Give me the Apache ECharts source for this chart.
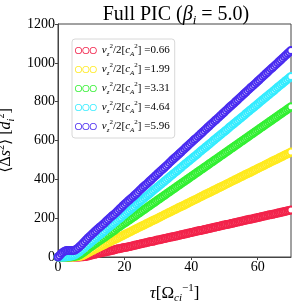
<!DOCTYPE html>
<html><head><meta charset="utf-8">
<script src="https://cdn.jsdelivr.net/npm/echarts@6/dist/echarts.min.js"></script>
<style>html,body{margin:0;padding:0;background:#fff}#c{width:299px;height:301px}</style>
</head><body><div id="c"></div>
<script>
// sample times: 0, 0.5, ..., 70
var tau = [];
for (var k = 0; k <= 140; k++) tau.push(k / 2);
var names = ['0.66', '1.99', '3.31', '4.64', '5.96'];
var colors = ['#f2234b', '#ffea1f', '#33f033', '#35ecff', '#4a2cf0'];
var red = [0,0,0,0,0,0,0,0,0,0,0,0,0,0,1,1,2,3,5,8,10,12,14,16,18,20,22,24,26,27,29,31,33,35,37,40,42,43,45,47,49,50,52,54,56,58,60,62,64,66,68,70,72,74,76,78,80,81,83,86,88,89,91,93,95,97,99,101,103,104,106,108,110,112,114,116,118,120,122,124,126,128,130,132,134,136,137,139,141,143,145,147,149,151,153,155,157,159,161,163,165,167,168,170,172,174,176,178,180,182,184,186,188,190,192,194,195,197,199,201,203,205,207,209,211,213,215,217,218,220,222,224,226,228,230,232,234,236,238,240,242];
var yellow = [0,0,0,0,0,0,0,0,0,0,1,1,2,3,5,8,12,16,21,26,31,35,39,43,47,52,56,60,64,69,73,77,82,86,90,94,98,103,107,111,116,120,124,128,132,137,141,145,150,154,158,162,166,171,175,179,184,188,192,196,200,205,209,213,218,222,226,230,234,239,243,247,252,256,260,264,268,273,277,281,286,290,294,298,302,307,311,315,320,324,328,332,336,341,345,349,354,358,362,366,370,375,379,383,388,392,396,400,404,409,413,417,422,426,430,434,438,443,447,451,456,460,464,468,472,477,481,485,490,494,498,502,506,511,515,519,524,528,532,536,541];
var green = [0,0,0,0,0,0,0,0,1,2,3,5,7,11,16,22,28,35,41,48,54,60,66,72,78,84,90,96,102,108,114,120,126,132,138,145,151,157,163,169,175,180,186,192,198,204,210,216,222,228,234,240,246,252,258,264,270,276,282,288,294,300,306,312,318,324,330,336,342,348,354,360,366,372,378,384,390,396,402,408,414,420,426,432,438,444,450,456,462,468,474,480,486,492,498,504,510,516,522,528,534,540,546,552,558,564,570,576,582,588,594,600,606,612,618,624,630,636,642,648,654,660,666,672,678,684,690,696,702,708,714,720,726,732,738,744,750,756,762,768,774];
var cyan = [0,0,0,0,0,1,2,3,5,7,10,15,21,27,34,41,48,56,63,71,78,85,92,99,106,113,120,127,134,142,149,156,163,170,177,184,191,198,205,213,220,227,234,241,248,255,262,270,277,284,291,298,305,312,319,326,333,341,348,355,362,369,376,383,390,397,404,412,419,426,433,440,447,454,461,469,476,483,490,497,504,511,518,525,532,540,547,554,561,568,575,582,589,597,604,611,618,625,632,639,646,653,660,668,675,682,689,696,703,710,717,724,731,739,746,753,760,767,774,781,788,796,803,810,817,824,831,838,845,852,859,867,874,881,888,895,902,909,916,923,930];
var blue = [0,8,18,25,30,33,34,34,33,33,35,40,46,54,62,71,80,89,98,106,114,122,130,138,146,153,160,168,175,184,192,200,208,215,222,230,238,247,255,264,272,280,288,295,303,310,318,326,334,343,351,359,367,374,382,390,398,406,414,422,430,438,446,453,461,469,477,486,494,502,510,517,525,533,541,549,557,565,573,581,589,597,605,612,620,628,636,644,652,660,668,676,684,692,700,707,715,723,731,739,747,755,763,771,779,786,794,802,810,818,826,834,842,850,858,866,874,881,889,897,905,913,921,929,937,945,953,961,969,976,984,992,1000,1008,1016,1024,1032,1040,1048,1056,1064];
var seriesVals = [red, yellow, green, cyan, blue];
var xTicks = [0, 20, 40, 60];

var serif = '"Liberation Serif","DejaVu Serif",serif';
var ringPath = 'path://';
[10, 30, 50].forEach(function (cx) {
  ringPath += 'M' + (cx - 9.5) + ',10 A9.5,9.5 0 0,1 ' + (cx + 9.5) + ',10 A9.5,9.5 0 0,1 ' + (cx - 9.5) + ',10 Z ';
  ringPath += 'M' + (cx - 7.3) + ',10 A7.3,7.3 0 0,0 ' + (cx + 7.3) + ',10 A7.3,7.3 0 0,0 ' + (cx - 7.3) + ',10 Z ';
});

var series = seriesVals.map(function (vals, i) {
  return {
    name: names[i],
    type: 'scatter',
    symbol: 'emptyCircle',
    symbolSize: 7,
    itemStyle: { color: colors[i], borderColor: colors[i], borderWidth: 0.8, opacity: 1 },
    data: tau.map(function (t, j) { return [t, vals[j]]; }),
    z: 2 + i
  };
});

function rich(size, subSize) {
  return {
    n: { fontFamily: serif, fontSize: size, color: '#000', fontWeight: 'normal', lineHeight: size + 4 },
    i: { fontFamily: serif, fontSize: size, fontStyle: 'italic', fontWeight: 'normal', color: '#000', lineHeight: size + 4 },
    sup: { fontFamily: serif, fontSize: subSize, color: '#000', fontWeight: 'normal', lineHeight: subSize + 1, verticalAlign: 'top' },
    sub: { fontFamily: serif, fontSize: subSize, fontStyle: 'italic', fontWeight: 'normal', color: '#000', lineHeight: subSize + 1, verticalAlign: 'bottom' }
  };
}

var chart = echarts.init(document.getElementById('c'), null, { renderer: 'canvas' });
chart.setOption({
  animation: false,
  backgroundColor: '#fff',
  title: {
    text: '{n|Full PIC (}{i|β}{sub|i}{n| = 5.0)}',
    left: 171, top: -2, textAlign: 'center',
    textStyle: { fontWeight: 'normal', rich: rich(20, 13) }
  },
  graphic: [{
    type: 'rect', z: 50, silent: true,
    shape: { x: 292, y: 0, width: 10, height: 301 },
    style: { fill: '#fff' }
  }],
  grid: { left: 58, right: 8, top: 24, bottom: 44, containLabel: false, outerBoundsMode: 'none',
    show: true, borderColor: '#444', borderWidth: 1, backgroundColor: 'transparent' },
  legend: {
    orient: 'vertical', left: 72, top: 39,
    padding: [4, 5, 4, 3], itemGap: 4, itemWidth: 22, itemHeight: 7,
    backgroundColor: '#fff', borderColor: '#d8d8d8', borderWidth: 1, borderRadius: 3,
    icon: ringPath,
    itemStyle: { borderWidth: 0 },
    data: names,
    formatter: function (n) {
      return '{i|v}{sub|z}{sup|2}{n|/2[}{i|c}{sub|A}{sup|2}{n|] =' + n + '}';
    },
    textStyle: { rich: rich(11, 7) }
  },
  xAxis: {
    type: 'value', min: 0, max: 70, interval: 20,
    name: '{i|τ}{n|[Ω}{sub|ci}{sup|−1}{n|]}',
    nameLocation: 'middle', nameGap: 26,
    nameTextStyle: { rich: rich(17, 11) },
    axisLine: { show: true, onZero: false, lineStyle: { color: '#444', width: 1 } },
    axisTick: { show: true, inside: false, length: 3, lineStyle: { color: '#444' }, customValues: xTicks },
    axisLabel: { fontFamily: serif, fontSize: 14, color: '#000', margin: 3, customValues: xTicks },
    splitLine: { show: false }
  },
  yAxis: {
    type: 'value', min: 0, max: 1200, interval: 200,
    name: '{n|⟨Δ}{i|s}{sup|2}{n|⟩ [}{i|d}{sub|i}{sup|2}{n|]}',
    nameLocation: 'middle', nameRotate: 90, nameGap: 36,
    nameTextStyle: { rich: rich(16, 10) },
    axisLine: { show: true, onZero: false, lineStyle: { color: '#444', width: 1 } },
    axisTick: { show: true, inside: false, length: 3, lineStyle: { color: '#444' } },
    axisLabel: { fontFamily: serif, fontSize: 14, color: '#000', margin: 3,
      formatter: function (v) { return String(v); } },
    splitLine: { show: false }
  },
  series: series
});
</script></body></html>
